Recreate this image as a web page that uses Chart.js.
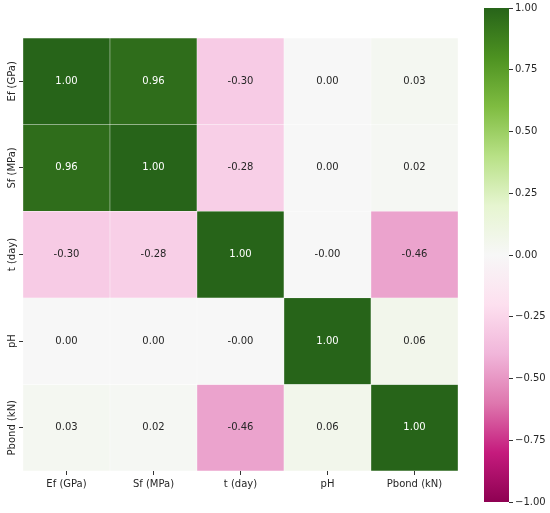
<!DOCTYPE html>
<html>
<head>
<meta charset="utf-8">
<script src="https://cdn.jsdelivr.net/npm/chart.js@4"></script>
<style>
  html, body { margin: 0; padding: 0; background: #fff; }
  #wrap { position: relative; width: 550px; height: 513px; }
  #heat { position: absolute; left: 0; top: 0; }
  #bar { position: absolute; left: 470px; top: 0; }
</style>
</head>
<body>
<div id="wrap">
  <canvas id="heat" width="470" height="513"></canvas>
  <canvas id="bar" width="80" height="513"></canvas>
</div>
<script>
const colLabels = ["Ef (GPa)", "Sf (MPa)", "t (day)", "pH", "Pbond (kN)"];
const rowLabels = ["Ef (GPa)", "Sf (MPa)", "t (day)", "pH", "Pbond (kN)"];
const rowEf = [1.00, 0.96, -0.30, 0.001, 0.03];
const rowSf = [0.96, 1.00, -0.28, 0.001, 0.02];
const rowT = [-0.30, -0.28, 1.00, -0.001, -0.46];
const rowPH = [0.001, 0.001, -0.001, 1.00, 0.06];
const rowPbond = [0.03, 0.02, -0.46, 0.06, 1.00];
const matrix = [rowEf, rowSf, rowT, rowPH, rowPbond];
const cbarTicks = [-1, -0.75, -0.5, -0.25, 0, 0.25, 0.5, 0.75, 1];

// PiYG colormap stops
const piyg = ["#8e0152", "#c51b7d", "#de77ae", "#f1b6da", "#fde0ef", "#f7f7f7",
              "#e6f5d0", "#b8e186", "#7fbc41", "#4d9221", "#276419"];

Chart.defaults.font.family = "'DejaVu Sans', sans-serif";
Chart.defaults.font.size = 10;
Chart.defaults.color = "#262626";

const hex = (h) => [1, 3, 5].map((i) => parseInt(h.slice(i, i + 2), 16));
function cmap(v) {
  const t = Math.min(Math.max((v + 1) / 2, 0), 1) * 10;
  const i = Math.min(Math.floor(t), 9);
  const f = t - i;
  const a = hex(piyg[i]), b = hex(piyg[i + 1]);
  return a.map((c, k) => Math.round(c + (b[k] - c) * f));
}
const rgb = (c) => `rgb(${c[0]}, ${c[1]}, ${c[2]})`;
function textColor(c) {
  const lin = c.map((x) => { x /= 255; return x <= 0.03928 ? x / 12.92 : Math.pow((x + 0.055) / 1.055, 2.4); });
  const lum = 0.2126 * lin[0] + 0.7152 * lin[1] + 0.0722 * lin[2];
  return lum > 0.408 ? "#262626" : "#ffffff";
}

// width of the widest row label, used to centre the rotated y labels
const mctx = document.createElement("canvas").getContext("2d");
mctx.font = "10px 'DejaVu Sans'";
const widest = Math.max(...rowLabels.map((l) => mctx.measureText(l).width));

const annotate = {
  id: "annotate",
  afterDatasetsDraw(chart) {
    const ctx = chart.ctx;
    ctx.save();
    ctx.font = "10px 'DejaVu Sans'";
    ctx.textAlign = "center";
    ctx.textBaseline = "middle";
    chart.data.datasets.forEach((ds, i) => {
      chart.getDatasetMeta(i).data.forEach((bar, j) => {
        const v = matrix[i][j];
        const p = bar.getCenterPoint();
        ctx.fillStyle = textColor(cmap(v));
        ctx.fillText(v.toFixed(2), p.x, p.y);
      });
    });
    ctx.restore();
  },
};

new Chart(document.getElementById("heat"), {
  type: "bar",
  data: {
    labels: colLabels,
    datasets: matrix.map((row, i) => ({
      label: rowLabels[i],
      data: row.map(() => [i, i + 1]),
      backgroundColor: row.map((v) => rgb(cmap(v))),
      borderColor: "rgba(255,255,255,0.9)",
      borderWidth: 0.5,
      borderSkipped: false,
      barPercentage: 1,
      categoryPercentage: 1,
      grouped: false,
    })),
  },
  options: {
    responsive: false,
    animation: false,
    layout: { padding: { top: 38, right: 12, left: 0, bottom: 0 } },
    plugins: { legend: { display: false }, tooltip: { enabled: false } },
    scales: {
      x: {
        grid: { display: true, drawOnChartArea: false, drawTicks: true, tickLength: 4, tickColor: "#333", offset: false },
        border: { display: false },
        ticks: { padding: 3, maxRotation: 0, color: "#262626" },
        afterFit: (s) => { s.height = 42; },
      },
      y: {
        min: 0,
        max: 5,
        reverse: true,
        grid: { display: true, drawOnChartArea: false, drawTicks: true, tickLength: 4, tickColor: "#333" },
        border: { display: false },
        afterBuildTicks: (s) => { s.ticks = rowLabels.map((l, i) => ({ value: i + 0.5 })); },
        ticks: {
          minRotation: 90,
          maxRotation: 90,
          crossAlign: "center",
          padding: 23 - 4 - 12 - widest / 2,
          color: "#262626",
          callback: (v, i) => rowLabels[i],
        },
        afterFit: (s) => { s.width = 23; },
      },
    },
  },
  plugins: [annotate],
});

new Chart(document.getElementById("bar"), {
  type: "bar",
  data: {
    labels: ["cbar"],
    datasets: [{
      data: [[-1, 1]],
      barPercentage: 1,
      categoryPercentage: 1,
      borderWidth: 0,
      backgroundColor: (c) => {
        const a = c.chart.chartArea;
        if (!a) return "#f7f7f7";
        const g = c.chart.ctx.createLinearGradient(0, a.bottom, 0, a.top);
        piyg.forEach((col, i) => g.addColorStop(i / 10, col));
        return g;
      },
    }],
  },
  options: {
    responsive: false,
    animation: false,
    layout: { padding: { top: 8, bottom: 11, left: 14, right: 0 } },
    plugins: { legend: { display: false }, tooltip: { enabled: false } },
    scales: {
      x: { display: false },
      y: {
        position: "right",
        min: -1,
        max: 1,
        grid: { display: true, drawOnChartArea: false, drawTicks: true, tickLength: 4, tickColor: "#333" },
        border: { display: false },
        afterBuildTicks: (s) => { s.ticks = cbarTicks.map((v) => ({ value: v })); },
        ticks: {
          padding: 2,
          color: "#262626",
          callback: (v) => v.toFixed(2).replace("-", "\u2212"),
        },
        afterFit: (s) => { s.width = 41; },
      },
    },
  },
});
</script>
</body>
</html>
